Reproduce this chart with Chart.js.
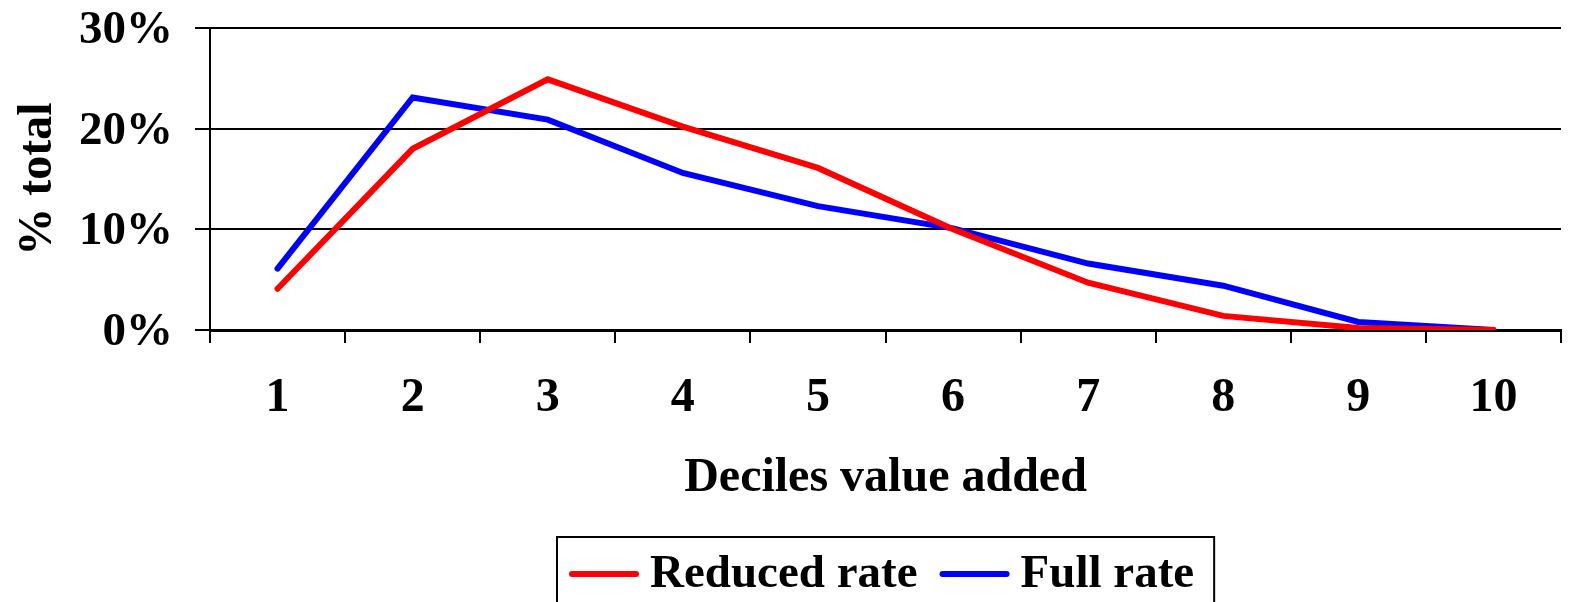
<!DOCTYPE html>
<html>
<head>
<meta charset="utf-8">
<script src="https://cdn.jsdelivr.net/npm/chart.js@4"></script>
<style>
  html, body { margin: 0; padding: 0; background: #fff; }
  #wrap { width: 1569px; height: 602px; position: relative; }
</style>
</head>
<body>
<div id="wrap"><canvas id="c" width="1569" height="602"></canvas></div>
<script>
// Share of total (%) by value-added decile
const deciles = ['1', '2', '3', '4', '5', '6', '7', '8', '9', '10'];
const reducedRate = [4.1, 18.0, 24.9, 20.2, 16.1, 10.0, 4.7, 1.4, 0.2, 0.0];
const fullRate = [6.1, 23.1, 20.9, 15.6, 12.3, 10.1, 6.6, 4.4, 0.8, 0.0];
const seriesNames = ['Reduced rate', 'Full rate'];
const yTicks = [0, 10, 20, 30];

const SERIF = "'Liberation Serif', 'Times New Roman', serif";

// Boxed legend drawn under the x-axis title
const boxedLegend = {
  id: 'boxedLegend',
  afterDraw(chart) {
    const ctx = chart.ctx;
    const area = chart.chartArea;
    const font = 'bold 47px ' + SERIF;
    ctx.save();
    ctx.font = font;
    const lineLen = 64, gapText = 14, gapItem = 25, padL = 15, padR = 20;
    const items = chart.data.datasets.map(ds => ({
      label: ds.label, color: ds.borderColor, w: ctx.measureText(ds.label).width
    }));
    let total = padL + padR;
    items.forEach((it, i) => { total += lineLen + gapText + it.w + (i ? gapItem : 0); });
    const cx = (area.left + area.right) / 2;
    const left = Math.round(cx - total / 2);
    const top = 537;
    ctx.lineWidth = 2;
    ctx.strokeStyle = '#000';
    ctx.strokeRect(left, top, total, 80);
    const midY = 574;
    let x = left + padL;
    items.forEach((it, i) => {
      if (i) x += gapItem;
      ctx.beginPath();
      ctx.lineWidth = 6;
      ctx.lineCap = 'round';
      ctx.strokeStyle = it.color;
      ctx.moveTo(x, midY);
      ctx.lineTo(x + lineLen, midY);
      ctx.stroke();
      x += lineLen + gapText;
      ctx.fillStyle = '#000';
      ctx.textBaseline = 'middle';
      ctx.textAlign = 'left';
      ctx.fillText(it.label, x, midY + 1);
      x += it.w;
    });
    ctx.restore();
  }
};

new Chart(document.getElementById('c'), {
  type: 'line',
  data: {
    labels: deciles,
    datasets: [
      { label: seriesNames[0], data: reducedRate, borderColor: '#ff0000', backgroundColor: '#ff0000' },
      { label: seriesNames[1], data: fullRate, borderColor: '#0000ff', backgroundColor: '#0000ff' }
    ]
  },
  options: {
    responsive: false,
    animation: false,
    devicePixelRatio: 1,
    layout: { padding: { top: 28, right: 8, bottom: 92, left: 0 } },
    elements: {
      line: { borderWidth: 6, tension: 0, borderCapStyle: 'round', borderJoinStyle: 'miter' },
      point: { radius: 0, hoverRadius: 0 }
    },
    plugins: { legend: { display: false }, tooltip: { enabled: false } },
    scales: {
      x: {
        offset: true,
        afterFit(scale) { scale.height = 180; scale.paddingLeft = 0; scale.paddingRight = 0; },
        grid: {
          offset: true,
          drawOnChartArea: true,
          color: ctx => ctx.index === deciles.length ? '#000' : 'rgba(0,0,0,0)',
          lineWidth: 2,
          tickColor: '#000',
          tickLength: 13,
          tickWidth: 2
        },
        border: { color: '#000', width: 3 },
        ticks: {
          color: '#000',
          padding: 27,
          maxRotation: 0,
          font: { family: SERIF, size: 48, weight: 'bold' }
        },
        title: {
          display: true,
          text: 'Deciles value added',
          color: '#000',
          padding: { top: 0, bottom: 3 },
          font: { family: SERIF, size: 48, weight: 'bold' }
        }
      },
      y: {
        min: yTicks[0],
        max: yTicks[yTicks.length - 1],
        afterFit(scale) { scale.width = 210; scale.paddingTop = 0; scale.paddingBottom = 0; },
        afterBuildTicks(scale) { scale.ticks = yTicks.map(v => ({ value: v })); },
        grid: { color: '#000', lineWidth: 2, tickLength: 15, tickColor: '#000' },
        border: { color: '#000', width: 2 },
        ticks: {
          color: '#000',
          padding: 22,
          labelOffset: 3,
          callback: v => v + '%',
          font: { family: SERIF, size: 47, weight: 'bold' }
        },
        title: {
          display: true,
          text: '% total',
          color: '#000',
          padding: { top: 10, bottom: 0 },
          font: { family: SERIF, size: 48, weight: 'bold' }
        }
      }
    }
  },
  plugins: [boxedLegend]
});
</script>
</body>
</html>
